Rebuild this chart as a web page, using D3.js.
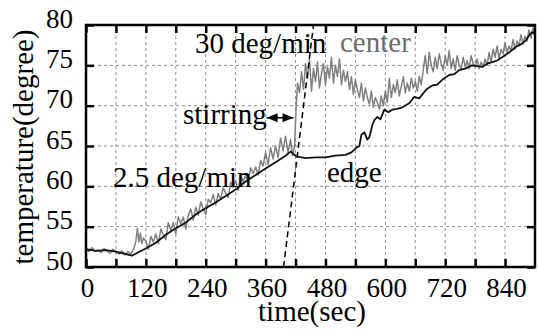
<!DOCTYPE html>
<html>
<head>
<meta charset="utf-8">
<script src="https://cdn.jsdelivr.net/npm/d3@7"></script>
<style>
  body { margin: 0; background: #fff; }
  text { font-family: "Liberation Serif", "Times New Roman", serif; }
</style>
</head>
<body>
<div id="chart"></div>
<script>
// tick values
const xTicks = [0, 60, 120, 180, 240, 300, 360, 420, 480, 540, 600, 660, 720, 780, 840];
const xLabels = [0, 120, 240, 360, 480, 600, 720, 840];
const yTicks = [50, 55, 60, 65, 70, 75, 80];

// edge temperature [time(sec), degree]
const edge = [
  [0,52.2],[20,52.0],[40,52.1],[60,51.9],[80,51.6],[92,51.4],[104,51.8],[120,52.3],[140,53.0],
  [160,54.0],[180,54.8],[200,55.5],[220,56.5],[240,57.3],[260,58.0],[280,58.8],[300,59.6],
  [320,60.6],[340,61.4],[360,62.2],[380,63.0],[400,63.8],[410,64.3],[416,64.0],[422,63.7],
  [440,63.5],[460,63.6],[480,63.6],[500,63.8],[520,63.9],[532,64.2],[542,64.8],[548,65.0],
  [552,66.4],[558,66.7],[564,65.8],[568,66.1],[574,67.6],[578,68.2],[584,68.6],[590,68.3],
  [598,69.5],[606,69.2],[614,69.5],[624,69.6],[634,69.8],[648,70.3],[658,71.1],[668,70.9],
  [682,72.0],[694,72.5],[704,72.6],[714,73.2],[728,73.8],[738,73.9],[748,74.4],[760,74.6],
  [774,75.0],[784,74.9],[794,74.8],[804,75.2],[814,75.4],[824,75.6],[834,76.0],[848,76.6],
  [862,77.3],[872,77.6],[882,78.1],[888,78.7],[894,79.1],[900,78.9]
];

// center temperature [time(sec), degree]
const center = [
  [0,52.3],[6,51.9],[12,52.4],[18,52.0],[24,52.1],[30,51.8],[36,52.3],[42,52.0],[48,51.7],
  [54,52.2],[60,51.9],[66,51.6],[72,52.0],[78,51.5],[84,51.9],[90,51.6],[96,52.3],[100,53.2],
  [103,54.8],[106,53.1],[109,54.2],[112,52.9],[115,53.6],[120,53.2],[125,52.2],[130,53.8],
  [135,53.1],[140,54.1],[145,52.9],[150,54.7],[155,54.0],[160,53.4],[165,55.5],[170,54.5],
  [175,55.5],[180,54.1],[185,56.2],[190,55.4],[195,56.2],[200,54.7],[205,56.4],[210,57.2],
  [215,55.8],[220,57.4],[225,56.4],[230,58.1],[235,57.2],[240,56.5],[245,58.4],[250,58.0],
  [255,59.0],[260,57.7],[265,59.1],[270,58.4],[275,59.8],[280,59.2],[285,58.6],[290,60.5],
  [295,59.9],[300,60.7],[305,59.5],[310,61.4],[315,60.6],[320,61.4],[325,60.4],[330,62.3],
  [335,61.6],[340,62.4],[345,61.4],[350,63.2],[355,62.5],[360,64.2],[365,62.7],[370,64.8],
  [375,63.4],[380,65.0],[385,63.6],[390,66.0],[395,64.4],[400,66.2],[405,64.2],[410,65.8],
  [414,63.8],[418,65.0],[421,69.5],[424,72.8],[428,71.6],[432,74.2],[436,72.0],[440,75.2],
  [444,73.4],[448,75.8],[452,71.8],[456,74.6],[460,73.0],[464,75.4],[468,72.2],[472,74.0],
  [476,75.2],[480,72.6],[484,74.8],[488,73.4],[492,76.0],[496,72.8],[500,75.0],[504,73.6],
  [508,75.8],[512,72.6],[516,74.4],[520,73.0],[524,74.2],[528,72.0],[532,73.6],[536,71.4],
  [540,73.2],[544,72.0],[548,71.0],[552,72.8],[556,70.6],[560,72.2],[564,71.0],[568,70.2],
  [572,71.8],[576,69.8],[580,71.0],[584,70.4],[588,69.6],[592,71.2],[596,70.0],[600,71.8],
  [604,70.4],[608,73.4],[612,71.0],[616,72.6],[620,71.6],[624,73.2],[628,71.2],[632,72.4],
  [636,73.6],[640,71.6],[644,72.8],[648,71.8],[652,73.4],[656,72.2],[660,73.0],[664,71.8],
  [668,73.6],[672,72.6],[676,74.4],[680,76.2],[684,74.0],[688,76.6],[692,75.0],[696,74.2],
  [700,76.0],[704,74.6],[708,76.4],[712,75.2],[716,74.4],[720,76.2],[724,75.0],[728,76.8],
  [732,74.6],[736,75.8],[740,74.4],[744,76.2],[748,75.0],[752,74.6],[756,76.0],[760,74.8],
  [764,75.6],[768,74.6],[772,76.2],[776,75.2],[780,74.8],[784,75.8],[788,74.6],[792,75.4],
  [796,74.8],[800,75.8],[804,75.0],[808,76.6],[812,75.4],[816,77.0],[820,76.0],[824,77.4],
  [828,75.8],[832,77.0],[836,76.4],[840,77.8],[844,76.6],[848,77.4],[852,76.8],[856,78.2],
  [860,77.0],[864,78.0],[868,77.4],[872,78.8],[876,77.6],[880,78.6],[884,78.0],[888,79.4],
  [892,78.4],[896,79.6],[900,78.9]
];

// 30 deg/min guide line [time, degree]
const guide30 = [[396, 50], [456, 80]];
// stirring interval (sec) and level (degree)
const stirring = [362, 416];
const stirLevel = 68.5;

const W = 538, H = 329;
const svg = d3.select('#chart').append('svg')
  .attr('width', W)
  .attr('height', H);

const x = d3.scaleLinear().domain([0, 900]).range([86, 535]);
const y = d3.scaleLinear().domain([50, 80]).range([267, 25]);

// grid
svg.append('g')
  .selectAll('line')
  .data(xTicks.filter(d => d > 0))
  .enter().append('line')
  .attr('x1', d => x(d)).attr('x2', d => x(d))
  .attr('y1', y(50)).attr('y2', y(80))
  .attr('stroke', '#8c8c8c')
  .attr('stroke-width', 1)
  .attr('stroke-dasharray', '3,3');

svg.append('g')
  .selectAll('line')
  .data(yTicks.filter(d => d > 50 && d < 80))
  .enter().append('line')
  .attr('x1', x(0)).attr('x2', x(900))
  .attr('y1', d => y(d)).attr('y2', d => y(d))
  .attr('stroke', '#8c8c8c')
  .attr('stroke-width', 1)
  .attr('stroke-dasharray', '3,3');

// data lines
const line = d3.line()
  .x(d => x(d[0]))
  .y(d => y(d[1]));

svg.append('path')
  .datum(center)
  .attr('fill', 'none')
  .attr('stroke', '#808080')
  .attr('stroke-width', 1.5)
  .attr('stroke-linejoin', 'round')
  .attr('d', line);

svg.append('path')
  .datum(edge)
  .attr('fill', 'none')
  .attr('stroke', '#111')
  .attr('stroke-width', 1.8)
  .attr('stroke-linejoin', 'round')
  .attr('d', line);

svg.append('path')
  .datum(guide30)
  .attr('fill', 'none')
  .attr('stroke', '#000')
  .attr('stroke-width', 1.5)
  .attr('stroke-dasharray', '6,4')
  .attr('d', line);

// axes: ticks pointing inward
const tickLen = 8;
svg.append('g')
  .attr('transform', `translate(0,${y(50)})`)
  .call(d3.axisBottom(x).tickValues(xTicks).tickSize(-tickLen).tickFormat(''));
svg.append('g')
  .attr('transform', `translate(0,${y(80)})`)
  .call(d3.axisTop(x).tickValues(xTicks).tickSize(-tickLen).tickFormat(''));
svg.append('g')
  .attr('transform', `translate(${x(0)},0)`)
  .call(d3.axisLeft(y).tickValues(yTicks).tickSize(-tickLen).tickFormat(''));
svg.append('g')
  .attr('transform', `translate(${x(900)},0)`)
  .call(d3.axisRight(y).tickValues(yTicks).tickSize(-tickLen).tickFormat(''));

svg.selectAll('.tick line').attr('stroke', '#000').attr('stroke-width', 2.5);
svg.selectAll('.domain').remove();

// frame
svg.append('rect')
  .attr('x', x(0)).attr('y', y(80))
  .attr('width', x(900) - x(0)).attr('height', y(50) - y(80))
  .attr('fill', 'none')
  .attr('stroke', '#000')
  .attr('stroke-width', 2.5);

// tick labels
const xl = svg.append('g')
  .attr('transform', `translate(1,${y(50)})`)
  .call(d3.axisBottom(x).tickValues(xLabels).tickSize(0).tickPadding(11));
const yl = svg.append('g')
  .attr('transform', `translate(${x(0)},0)`)
  .call(d3.axisLeft(y).tickValues(yTicks).tickSize(0).tickPadding(13));
[xl, yl].forEach(g => {
  g.select('.domain').remove();
  g.selectAll('text')
    .attr('fill', '#000')
    .style('font-family', '"Liberation Serif", "Times New Roman", serif')
    .style('font-size', '27px');
});
yl.selectAll('text').attr('dy', '0.08em');

// axis titles
svg.append('text')
  .attr('x', 312).attr('y', 321)
  .attr('text-anchor', 'middle')
  .style('font-size', '29px')
  .text('time(sec)');

svg.append('text')
  .attr('transform', 'translate(33,147) rotate(-90)')
  .attr('text-anchor', 'middle')
  .style('font-size', '29px')
  .text('temperature(degree)');

// annotations
svg.append('text')
  .attr('x', 195).attr('y', 53)
  .style('font-size', '29px')
  .text('30 deg/min');

svg.append('text')
  .attr('x', 340).attr('y', 52)
  .attr('fill', '#6e6e6e')
  .style('font-size', '29px')
  .text('center');

svg.append('text')
  .attr('x', 183).attr('y', 124)
  .style('font-size', '29px')
  .text('stirring');

svg.append('text')
  .attr('x', 113).attr('y', 187)
  .style('font-size', '29px')
  .text('2.5 deg/min');

svg.append('text')
  .attr('x', 327).attr('y', 182)
  .style('font-size', '29px')
  .text('edge');

// stirring double arrow
const ax0 = x(stirring[0]), ax1 = x(stirring[1]), ay = y(stirLevel);
svg.append('line')
  .attr('x1', ax0).attr('x2', ax1)
  .attr('y1', ay).attr('y2', ay)
  .attr('stroke', '#000').attr('stroke-width', 1.5);
svg.append('path')
  .attr('d', `M${ax0},${ay} L${ax0 + 11},${ay - 4.5} L${ax0 + 11},${ay + 4.5} Z`)
  .attr('fill', '#000');
svg.append('path')
  .attr('d', `M${ax1},${ay} L${ax1 - 11},${ay - 4.5} L${ax1 - 11},${ay + 4.5} Z`)
  .attr('fill', '#000');
</script>
</body>
</html>
